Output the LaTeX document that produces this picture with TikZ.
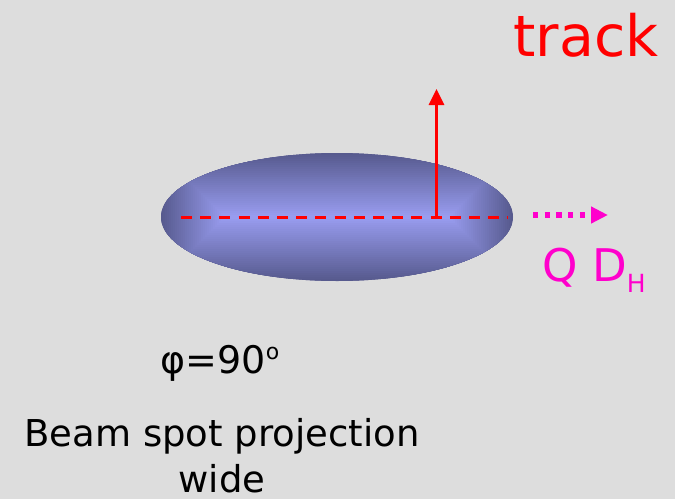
\documentclass[tikz,border=0pt]{standalone}
\usepackage{fontspec}
\setmainfont{DejaVu Sans}
\usepackage{xcolor}
\usetikzlibrary{shapes.geometric,arrows.meta,positioning,calc}

\definecolor{bggray}{HTML}{DDDDDD}
\definecolor{beamdark}{HTML}{575A8E}
\definecolor{beamlight}{HTML}{9A9EF2}
\definecolor{qmagenta}{HTML}{FF00CC}

\tikzset{
    spotshape/.style={ellipse, minimum width=352, minimum height=128, inner sep=0},
    redlabel/.style={text=red, inner sep=0, anchor=base},
}

\begin{document}
\begin{tikzpicture}[x=1pt, y=-1pt]
        \fill[bggray] (0,0) rectangle (675,499);
        \useasboundingbox (0,0) rectangle (675,499);

        % beam spot, banded fill clipped to the ellipse
        \node[spotshape, fill=beamdark, path picture={
            \foreach \t in {0,2,...,64} {
                \pgfmathsetmacro\p{100*\t/64}
                \fill[beamlight!\p!beamdark] (-176+\t,-64+\t) rectangle (176-\t,64-\t);
            }}] (beam) at (337,217) {};

        \coordinate (dashL) at (181,217);
        \coordinate (dashR) at (508,217);
        \coordinate (trackfoot) at (436.5,217);
        \coordinate (tracktip) at (436.5,89);
        \coordinate (qstart) at (533,215);
        \coordinate (qend) at (608,215);

        \draw[red, line width=3, dash pattern=on 11 off 8.2] (dashL) -- (dashR);
        \draw[red, line width=3, -{Triangle[length=16, width=15]}] (trackfoot) -- (tracktip);
        \draw[qmagenta, line width=5.3, dash pattern=on 5.3 off 6.4, -{Triangle[length=17, width=16]}] (qstart) -- (qend);

        \node[redlabel, font=\fontsize{57}{57}\selectfont] (track) at (586,56) {track};
        \node[inner sep=0, anchor=base, text=qmagenta, font=\fontsize{45}{45}\selectfont] (qdh) at (594,281)
            {Q D\raisebox{-11pt}{\fontsize{25}{25}\selectfont H}};
        \node[inner sep=0, anchor=base, font=\fontsize{38}{38}\selectfont] (phi) at (220,373)
            {φ=90\raisebox{14pt}{\fontsize{22}{22}\selectfont o}};
        \node[inner sep=0, anchor=base, align=center, font=\fontsize{37}{46}\selectfont] (caption) at (222,492)
            {Beam spot projection\\wide};
    \end{tikzpicture}
\end{document}
